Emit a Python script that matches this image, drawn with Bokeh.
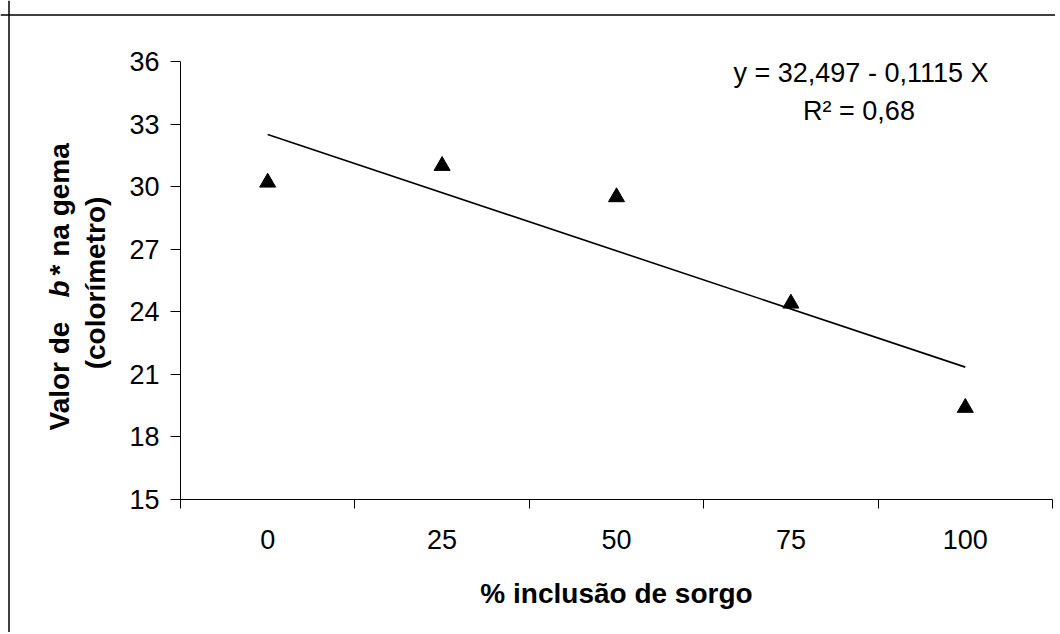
import math
from bokeh.plotting import figure
from bokeh.models import FixedTicker, Label, Span, Range1d
from bokeh.embed import file_html
from bokeh.resources import INLINE

# ---- data ----
inclusion = [0, 25, 50, 75, 100]
b_values = [30.2, 31.0, 29.5, 24.4, 19.4]
y_ticks = [15, 18, 21, 24, 27, 30, 33, 36]
x_ticks = [0, 25, 50, 75, 100]
x_bounds = [-12.5, 12.5, 37.5, 62.5, 87.5, 112.5]
intercept = 32.497
slope = -0.1115
trend_x = [0, 100]
trend_y = [intercept + slope * x for x in trend_x]
eq_text = "y = 32,497 - 0,1115 X"
r2_text = "R\u00b2 = 0,68"
x_title = "% inclusão de sorgo"
y_title_parts = ["Valor de ", "b", "* na gema"]
y_title_line2 = "(colorímetro)"

FONT = "Liberation Sans"

# ---- layout (pixels) ----
W, H = 1055, 632
PX_LEFT, PX_RIGHT, PX_TOP, PX_BOTTOM = 180, 1052, 61, 499
X0, X1 = x_bounds[0], x_bounds[-1]
Y0, Y1 = y_ticks[0], y_ticks[-1]
xpp = (X1 - X0) / (PX_RIGHT - PX_LEFT)
ypp = (Y1 - Y0) / (PX_BOTTOM - PX_TOP)
x_start = X0 - PX_LEFT * xpp
x_end = X1 + (W - PX_RIGHT) * xpp
y_end = Y1 + PX_TOP * ypp
y_start = Y0 - (H - PX_BOTTOM) * ypp
SHIFT = 10  # baseline correction for labels


def dx(px):
    return x_start + px * xpp


def dy(py):
    return y_end - py * ypp


p = figure(width=W, height=H,
           x_range=Range1d(x_start, x_end), y_range=Range1d(y_start, y_end),
           output_backend="svg", toolbar_location=None,
           min_border=0, min_border_left=0, min_border_right=0,
           min_border_top=0, min_border_bottom=0)
p.outline_line_color = None
p.background_fill_color = "white"
p.border_fill_color = "white"
p.xgrid.visible = False
p.ygrid.visible = False

# y axis
ya = p.yaxis[0]
ya.fixed_location = X0
ya.bounds = (Y0, Y1)
ya.ticker = FixedTicker(ticks=y_ticks)
ya.major_tick_out = 10
ya.major_tick_in = 0
ya.minor_tick_line_color = None
ya.axis_line_color = "black"
ya.major_tick_line_color = "black"
ya.major_label_text_font = FONT
ya.major_label_text_font_size = "27px"
ya.major_label_text_color = "black"
ya.major_label_standoff = 11

# x axis
xa = p.xaxis[0]
xa.fixed_location = Y0
xa.bounds = (X0, X1)
xa.ticker = FixedTicker(ticks=x_ticks, minor_ticks=x_bounds)
xa.major_tick_out = 0
xa.major_tick_in = 0
xa.minor_tick_out = 9
xa.minor_tick_in = 0
xa.minor_tick_line_color = "black"
xa.axis_line_color = "black"
xa.major_label_text_font = FONT
xa.major_label_text_font_size = "27px"
xa.major_label_text_color = "black"
xa.major_label_standoff = 21

# trend line and points
p.line(trend_x, trend_y, line_color="black", line_width=1.6)
p.scatter(inclusion, b_values, marker="triangle", size=16,
          fill_color="black", line_color="black")

# equation
p.add_layout(Label(x=dx(860.5), y=dy(82 - SHIFT), text=eq_text, text_align="center",
                   text_baseline="alphabetic", text_font=FONT,
                   text_font_size="27px", text_color="black"))
p.add_layout(Label(x=dx(858.5), y=dy(120 - SHIFT), text=r2_text, text_align="center",
                   text_baseline="alphabetic", text_font=FONT,
                   text_font_size="27px", text_color="black"))

# x title
p.add_layout(Label(x=dx(616), y=dy(602.5 - SHIFT), text=x_title, text_align="center",
                   text_baseline="alphabetic", text_font=FONT,
                   text_font_size="28px", text_font_style="bold",
                   text_color="black"))

# y title (rotated, mixed styles)
seg_py = [430, 297, 275]
seg_style = ["bold", "bold italic", "bold"]
for t, py, st in zip(y_title_parts, seg_py, seg_style):
    p.add_layout(Label(x=dx(69 - SHIFT), y=dy(py), text=t, angle=math.pi / 2,
                       text_align="left", text_baseline="alphabetic",
                       text_font=FONT, text_font_size="28px",
                       text_font_style=st, text_color="black"))
p.add_layout(Label(x=dx(105 - SHIFT), y=dy(282.5), text=y_title_line2, angle=math.pi / 2,
                   text_align="center", text_baseline="alphabetic",
                   text_font=FONT, text_font_size="28px",
                   text_font_style="bold", text_color="black"))

# outer chart border (left and top edges visible)
p.add_layout(Span(location=dx(8.5), dimension="height",
                  line_color="black", line_width=1.5))
p.add_layout(Span(location=dy(14.5), dimension="width",
                  line_color="black", line_width=1.5))

open("out.html", "w").write(file_html(p, INLINE))
